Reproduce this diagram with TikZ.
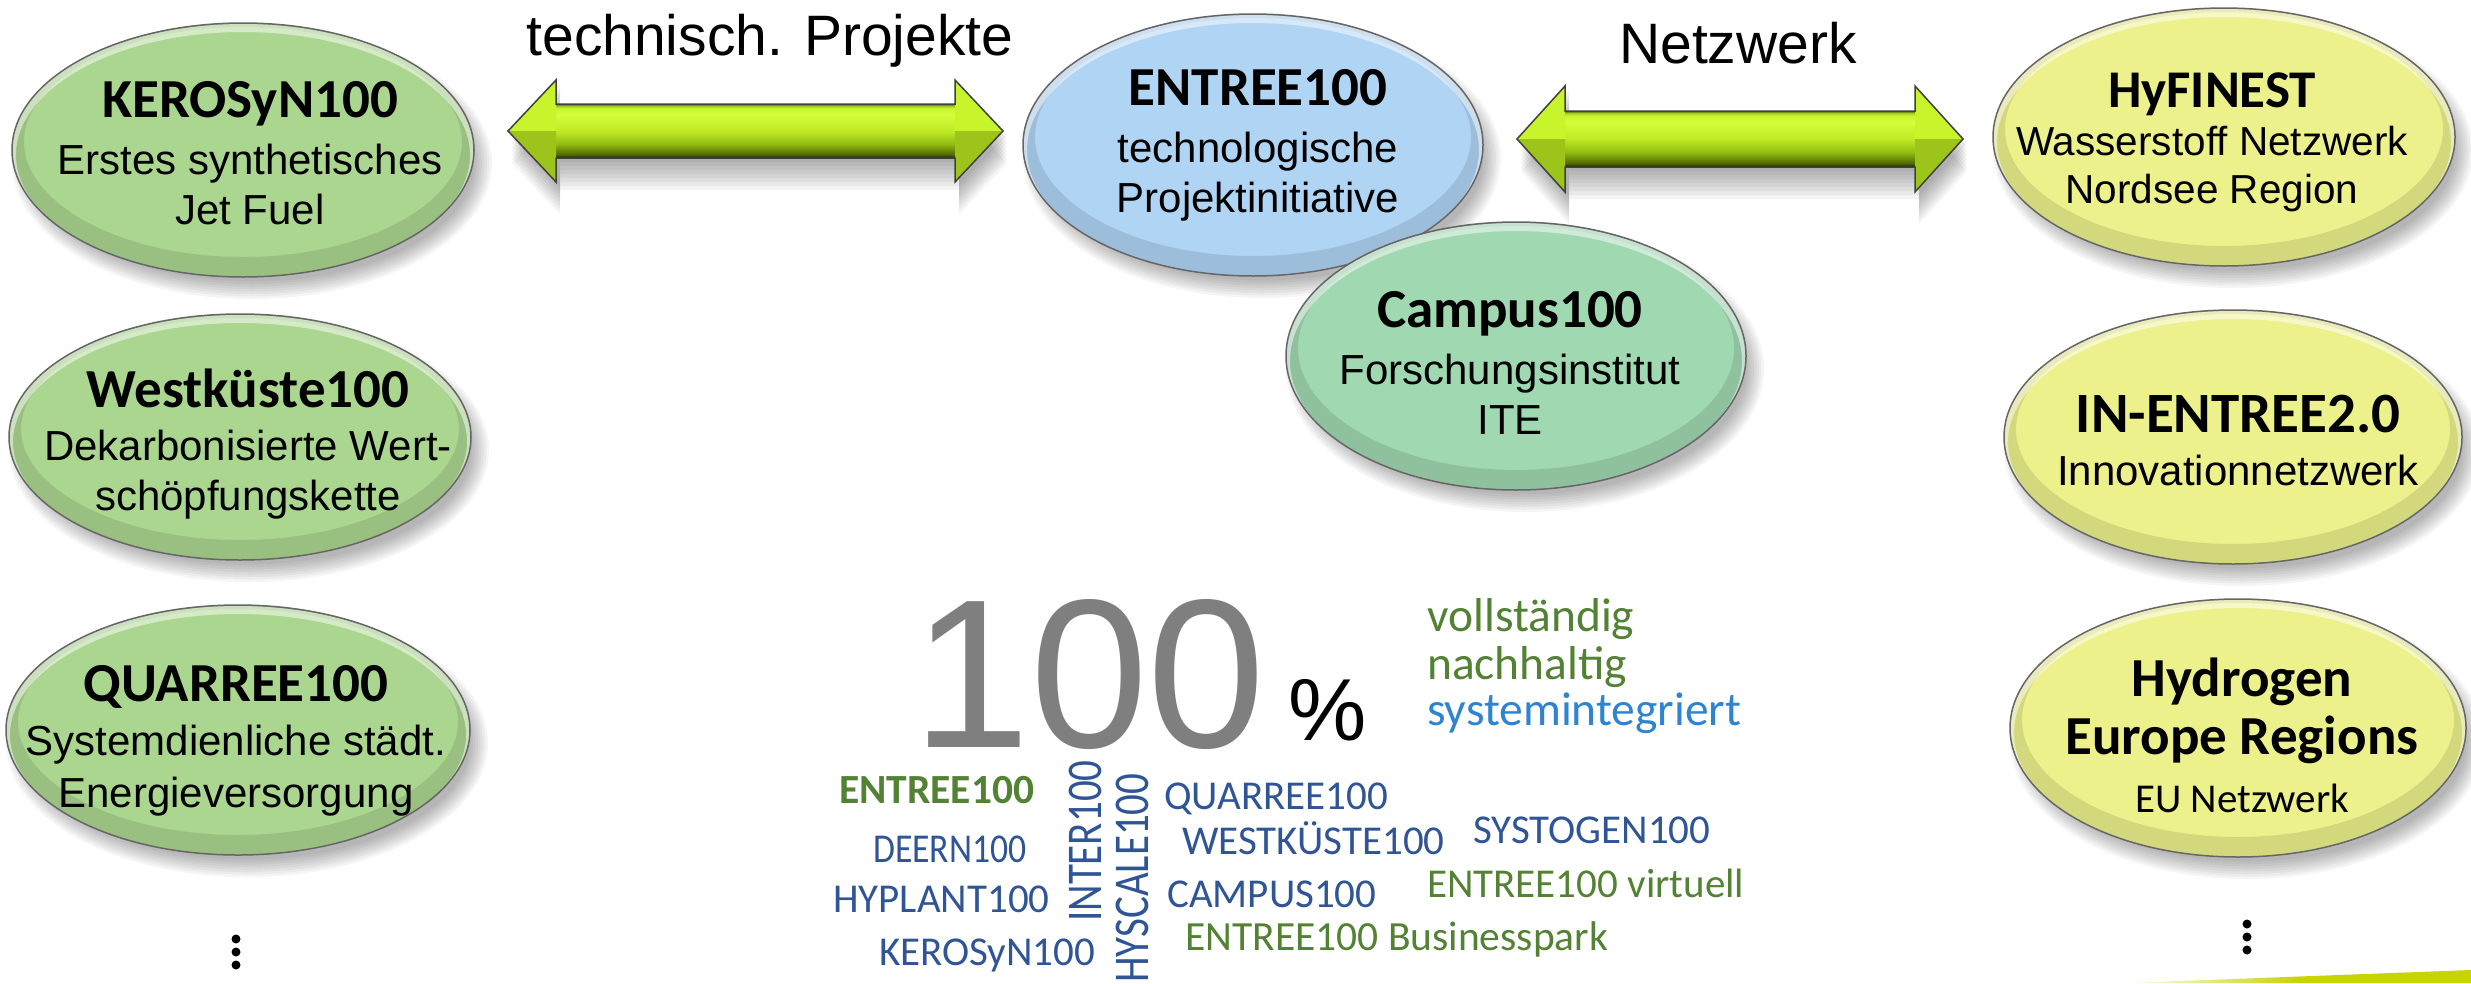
\documentclass[tikz,border=0pt]{standalone}
\usepackage{fontspec}
\setmainfont{Liberation Sans}
\newfontfamily\calf{Carlito}
\newfontfamily\calnarrow[FakeStretch=0.82]{Carlito}
\newfontfamily\calsemi[FakeStretch=0.87]{Carlito}
\usetikzlibrary{calc,shapes.geometric}

\definecolor{kgreen}{HTML}{ABD68F}
\definecolor{eblue}{HTML}{AFD4F4}
\definecolor{cgreen}{HTML}{A0D8B2}
\definecolor{hyel}{HTML}{EDF18C}
\definecolor{wblue}{HTML}{2F5597}
\definecolor{wgreen}{HTML}{548235}
\definecolor{wsky}{HTML}{2F84D2}
\definecolor{bignum}{HTML}{7F7F7F}
\definecolor{limebar}{HTML}{C8D400}
\definecolor{headhi}{HTML}{C8F42C}
\definecolor{headlo}{HTML}{9CC41A}
\definecolor{sc0}{HTML}{151A00}
\definecolor{sc1}{HTML}{4F6600}
\definecolor{sc2}{HTML}{92BC12}
\definecolor{sc3}{HTML}{BEE924}
\definecolor{sc4}{HTML}{D3FF3A}
\definecolor{sc5}{HTML}{C8F42E}
\definecolor{sc6}{HTML}{9DC41C}
\definecolor{sc7}{HTML}{3E4B0A}

\pgfdeclareverticalshading{shaftsh}{100bp}{color(0bp)=(sc0); color(25bp)=(sc0); color(28bp)=(sc1); color(38bp)=(sc2); color(50bp)=(sc3); color(65bp)=(sc4); color(71bp)=(sc5); color(73.5bp)=(sc6); color(75bp)=(sc7); color(100bp)=(sc7)}

\newcommand\ttlf{\calf\bfseries\fontsize{55}{57}\selectfont}
\newcommand\eshadow[4]{\foreach \k in {0,...,7}{\fill[black,opacity=0.04] (#1+9,#2+13) ellipse [x radius={#3+9-2.5*\k}, y radius={#4+9-2.5*\k}];}}

\tikzset{
  bub/.style n args={3}{ellipse, minimum width=#1, minimum height=#2, inner sep=0pt, fill=#3, draw=black!60, line width=1.5pt,
    path picture={
      \draw[black, opacity=0.10, line width=24pt] ([yshift=8pt]path picture bounding box.center) ellipse [x radius=#1/2, y radius=#2/2];
      \draw[white, opacity=0.5, line width=8pt] ([yshift=-5pt]path picture bounding box.center) ellipse [x radius=#1/2, y radius=#2/2];
    }},
  btxt/.style={align=center, inner sep=0pt, font=\fontsize{42}{50}\selectfont},
  cloudw/.style={anchor=base west, inner sep=0pt, font=\calf\fontsize{41}{43}\selectfont, text=wblue},
  vcloud/.style={anchor=base west, inner sep=0pt, rotate=90, font=\calnarrow\fontsize{50}{52}\selectfont, text=wblue},
  tagw/.style={anchor=base west, inner sep=0pt, font=\calf\fontsize{47.5}{49}\selectfont, text=wgreen},
  toplabel/.style={anchor=base, inner sep=0pt, font=\fontsize{57}{60}\selectfont},
  pics/dbl/.style n args={3}{code={
    \foreach \s in {4,8,...,32}{
      \begin{scope}[shift={(4,\s)}]
        \fill[black, opacity=0.045] (0,0) -- (48,-#3) -- (48,-#2) -- (#1-48,-#2) -- (#1-48,-#3) -- (#1,0) -- (#1-48,#3) -- (#1-48,#2) -- (48,#2) -- (48,#3) -- cycle;
      \end{scope}
    }
    \shade[shading=shaftsh] (46,-#2) rectangle (#1-46,#2);
    \fill[headhi] (0,0) -- (48,-#3) -- (48,0) -- cycle;
    \fill[headlo] (0,0) -- (48,#3) -- (48,0) -- cycle;
    \fill[headhi] (#1,0) -- (#1-48,-#3) -- (#1-48,0) -- cycle;
    \fill[headlo] (#1,0) -- (#1-48,#3) -- (#1-48,0) -- cycle;
    \draw[black!75, line width=1.5pt] (0,0) -- (48,-#3) -- (48,-#2) -- (#1-48,-#2) -- (#1-48,-#3) -- (#1,0) -- (#1-48,#3) -- (#1-48,#2) -- (48,#2) -- (48,#3) -- cycle;
  }}
}

\begin{document}
\begin{tikzpicture}[x=1pt,y=-1pt]
\useasboundingbox (0,0) rectangle (2471,983);
\fill[white] (0,0) rectangle (2471,983);

% bottom-right accent wedge
\shade[left color=limebar!5, right color=limebar, middle color=limebar] (2127,983) -- (2471,970) -- (2471,983) -- cycle;

% top labels
\node[toplabel] (tp) at (770,55) {technisch. Projekte};
\node[toplabel] (nw) at (1738,63) {Netzwerk};

% left column
\eshadow{243}{150}{231}{127}
\node[bub={462pt}{254pt}{kgreen}] (ker) at (243,150) {};
\node[btxt] (kert) at (250,153) {{\ttlf KEROSyN100}\\[7pt]Erstes synthetisches\\Jet Fuel};

\eshadow{240}{437}{231}{123}
\node[bub={462pt}{246pt}{kgreen}] (west) at (240,437) {};
\node[btxt] (westt) at (248,444) {{\ttlf Westküste100}\\[3pt]Dekarbonisierte Wert-\\schöpfungskette};

\eshadow{238}{730}{232}{125}
\node[bub={464pt}{250pt}{kgreen}] (quar) at (238,730) {};
\node[btxt] (quart) at (236,741) {{\ttlf QUARREE100}\\[4pt]Systemdienliche städt.\\[2pt]Energieversorgung};

\foreach \yy in {939,952,965} \fill (236,\yy) circle (4.5);

% centre
\eshadow{1253}{145}{230}{131}
\node[bub={460pt}{262pt}{eblue}] (entree) at (1253,145) {};
\node[btxt] (entreet) at (1258,145) {{\ttlf ENTREE100}\\[7pt]technologische\\Projektinitiative};

\eshadow{1516}{356}{230}{134}
\node[bub={460pt}{268pt}{cgreen}] (campus) at (1516,356) {};
\node[btxt] (campust) at (1510,363) {{\ttlf Campus100}\\[7pt]Forschungsinstitut\\ITE};

% right column
\eshadow{2224}{137}{231}{129}
\node[bub={462pt}{258pt}{hyel}] (hyf) at (2224,137) {};
\node[btxt, font=\fontsize{40.5}{48}\selectfont] (hyft) at (2212,142) {{\calf\bfseries\fontsize{53}{55}\selectfont HyFINEST}\\Wasserstoff Netzwerk\\Nordsee Region};

\eshadow{2233}{437}{229}{127}
\node[bub={458pt}{254pt}{hyel}] (inen) at (2233,437) {};
\node[btxt] (inent) at (2238,441) {{\calf\bfseries\fontsize{57}{59}\selectfont IN-ENTREE2.0}\\[3pt]Innovationnetzwerk};

\eshadow{2238}{728}{228}{129}
\node[bub={456pt}{258pt}{hyel}] (hyd) at (2238,728) {};
\node[btxt, font=\calf\bfseries\fontsize{55}{58}\selectfont] (hydt) at (2242,735) {Hydrogen\\Europe Regions\\{\mdseries\fontsize{41}{43}\selectfont EU Netzwerk}};

\foreach \yy in {924,937,950} \fill (2247,\yy) circle (4.5);

% block arrows
\coordinate (a1l) at (508,131);
\coordinate (a2l) at (1517,139);
\pic (arr1) at (a1l) {dbl={495}{27}{51}};
\pic (arr2) at (a2l) {dbl={446}{28}{53}};

% 100 %
\node[anchor=base west, inner sep=0pt, text depth=0pt, text=bignum, font=\fontsize{212}{212}\selectfont] (hundred) at (912,747) {100};
\node[anchor=base west, inner sep=0pt, text depth=0pt, font=\fontsize{88}{90}\selectfont] (pct) at (1288,740) {\%};
\node[tagw] (voll) at (1427,631) {vollständig};
\node[tagw] (nach) at (1427,679) {nachhaltig};
\node[tagw, text=wsky] (sysi) at (1427,725) {systemintegriert};

% word cloud
\node[cloudw, text=wgreen, font=\calf\bfseries\fontsize{41.5}{43}\selectfont] (w1) at (839,803) {ENTREE100};
\node[cloudw, font=\calsemi\fontsize{41}{43}\selectfont] (w2) at (873,862) {DEERN100};
\node[cloudw] (w3) at (833,912) {HYPLANT100};
\node[cloudw] (w4) at (879,965) {KEROSyN100};
\node[vcloud] (w5) at (1101,922) {INTER100};
\node[vcloud] (w6) at (1148,983) {HYSCALE100};
\node[cloudw] (w7) at (1164,809) {QUARREE100};
\node[cloudw] (w8) at (1182,854) {WESTKÜSTE100};
\node[cloudw] (w9) at (1473,843) {SYSTOGEN100};
\node[cloudw] (w10) at (1167,907) {CAMPUS100};
\node[cloudw, text=wgreen] (w11) at (1427,897) {ENTREE100 virtuell};
\node[cloudw, text=wgreen, font=\calf\fontsize{41.5}{43}\selectfont] (w12) at (1185,950) {ENTREE100 Businesspark};
\end{tikzpicture}
\end{document}
